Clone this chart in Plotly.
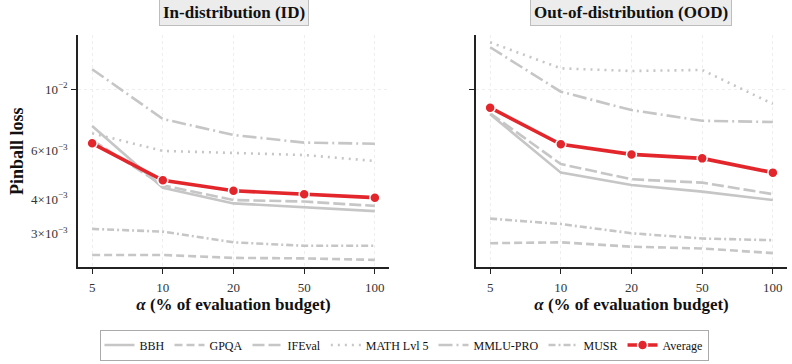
import plotly.graph_objects as go
from plotly.subplots import make_subplots

# x 轴: 评估预算比例 (%)
ALPHA = ["5", "10", "20", "50", "100"]

# In-distribution (ID) pinball loss
ID_BBH = [0.00736, 0.00440, 0.00386, 0.00374, 0.00362]
ID_GPQA = [0.00251, 0.00251, 0.00245, 0.00244, 0.00241]
ID_IFEVAL = [0.00655, 0.00449, 0.00397, 0.00392, 0.00378]
ID_MATH = [0.00693, 0.00598, 0.00588, 0.00578, 0.00550]
ID_MMLU = [0.01182, 0.00781, 0.00683, 0.00641, 0.00635]
ID_MUSR = [0.00312, 0.00305, 0.00279, 0.00271, 0.00271]
ID_AVG = [0.00637, 0.00468, 0.00429, 0.00417, 0.00405]

# Out-of-distribution (OOD) pinball loss
OOD_BBH = [0.00812, 0.00499, 0.00450, 0.00426, 0.00397]
OOD_GPQA = [0.00277, 0.00279, 0.00269, 0.00265, 0.00255]
OOD_IFEVAL = [0.00819, 0.00536, 0.00472, 0.00459, 0.00417]
OOD_MATH = [0.01480, 0.01191, 0.01165, 0.01175, 0.00885]
OOD_MMLU = [0.01420, 0.00980, 0.00841, 0.00769, 0.00761]
OOD_MUSR = [0.00340, 0.00325, 0.00301, 0.00288, 0.00284]
OOD_AVG = [0.00858, 0.00632, 0.00581, 0.00562, 0.00499]

BENCHMARKS = ["BBH", "GPQA", "IFEval", "MATH Lvl 5", "MMLU-PRO", "MUSR"]
ID_SERIES = [ID_BBH, ID_GPQA, ID_IFEVAL, ID_MATH, ID_MMLU, ID_MUSR]
OOD_SERIES = [OOD_BBH, OOD_GPQA, OOD_IFEVAL, OOD_MATH, OOD_MMLU, OOD_MUSR]

# 线型
DASHES = {
    "BBH": "solid",
    "GPQA": "8px,4px",
    "IFEval": "12px,4px",
    "MATH Lvl 5": "2px,5px",
    "MMLU-PRO": "14px,4px,2px,4px",
    "MUSR": "7px,3px,2px,3px",
}

GREY = "#c6c6c6"
RED = "#e3262b"
FONT = "Liberation Serif, Times New Roman, DejaVu Serif, serif"

W, H = 792, 364


def px_x(x):
    return x / W


def px_y(y):
    return 1 - y / H


fig = make_subplots(rows=1, cols=2, shared_yaxes=True)

for col, series, avg in [(1, ID_SERIES, ID_AVG), (2, OOD_SERIES, OOD_AVG)]:
    for name, vals in zip(BENCHMARKS, series):
        fig.add_trace(go.Scatter(
            x=ALPHA, y=vals, mode="lines", name=name,
            line=dict(color=GREY, width=2.6, dash=DASHES[name]),
            showlegend=(col == 1), legendgroup=name,
        ), row=1, col=col)
    fig.add_trace(go.Scatter(
        x=ALPHA, y=avg, mode="lines+markers", name="Average",
        line=dict(color=RED, width=3.6),
        marker=dict(size=10, color=RED, line=dict(color="white", width=1.5)),
        showlegend=(col == 1), legendgroup="Average",
    ), row=1, col=col)

# ─── 坐标轴 ────────────────────────────────────
axis_common = dict(
    showline=True, linecolor="#222", linewidth=1.5, mirror=False,
    tickfont=dict(family=FONT, size=13, color="#333"),
    zeroline=False, automargin=False,
)
fig.update_xaxes(
    type="category", range=[-0.2, 4.2],
    ticks="outside", ticklen=5, tickwidth=1.2, tickcolor="#222",
    ticklabelstandoff=3,
    showgrid=True, gridcolor="#eeeeee", gridwidth=0.8, griddash="dot",
    title=dict(text="<b><i>α</i> (% of evaluation budget)</b>",
               font=dict(family=FONT, size=17, color="#111"), standoff=4),
    **axis_common,
)
fig.update_xaxes(domain=[px_x(78), px_x(389)], row=1, col=1)
fig.update_xaxes(domain=[px_x(476), px_x(787)], row=1, col=2)

yrange = [-2.6438, -1.8033]
fig.update_yaxes(
    type="log", range=yrange, domain=[px_y(267), px_y(35)],
    showgrid=False,
    minor=dict(tickmode="array", tickvals=[0.01], ticks="outside",
               ticklen=5, tickwidth=1.2, tickcolor="#222",
               showgrid=True, gridcolor="#eeeeee", gridwidth=0.8,
               griddash="dot"),
    **axis_common,
)
fig.update_yaxes(
    tickmode="array", tickvals=[0.003, 0.004, 0.006, 0.01],
    ticktext=["3×10<sup>−3</sup>", "4×10<sup>−3</sup>",
              "6×10<sup>−3</sup>", "10<sup>−2</sup>"],
    ticks="", ticklabelstandoff=6, row=1, col=1,
)
fig.update_yaxes(showticklabels=False, ticks="", row=1, col=2)

# ─── 标题框 ────────────────────────────────────
for text, xc in [("In-distribution (ID)", 233.5), ("Out-of-distribution (OOD)", 631)]:
    fig.add_annotation(
        text=f"<b>{text}</b>", x=px_x(xc), y=px_y(13),
        xref="paper", yref="paper", xanchor="center", yanchor="middle",
        showarrow=False,
        font=dict(family=FONT, size=17, color="#111"),
        bgcolor="#ececec", bordercolor="#bdbdbd", borderwidth=1, borderpad=3,
    )

fig.add_annotation(
    text="<b>Pinball loss</b>", x=px_x(17), y=px_y(151),
    xref="paper", yref="paper", xanchor="center", yanchor="middle",
    showarrow=False, textangle=-90,
    font=dict(family=FONT, size=18, color="#111"),
)

fig.update_layout(
    width=W, height=H,
    margin=dict(l=0, r=0, t=0, b=0, autoexpand=False),
    plot_bgcolor="white", paper_bgcolor="white",
    legend=dict(
        orientation="h", x=px_x(404), xanchor="center",
        y=px_y(345), yanchor="middle",
        font=dict(family=FONT, size=12, color="#111"),
        bordercolor="#aaaaaa", borderwidth=1, bgcolor="white",
        itemwidth=30, tracegroupgap=0,
    ),
    font=dict(family=FONT),
)

# 去掉页面默认外边距, 让图贴齐窗口左上角
fig.write_html(
    "out.html",
    config={"displayModeBar": False},
    post_script="document.body.style.margin = '0';",
)
